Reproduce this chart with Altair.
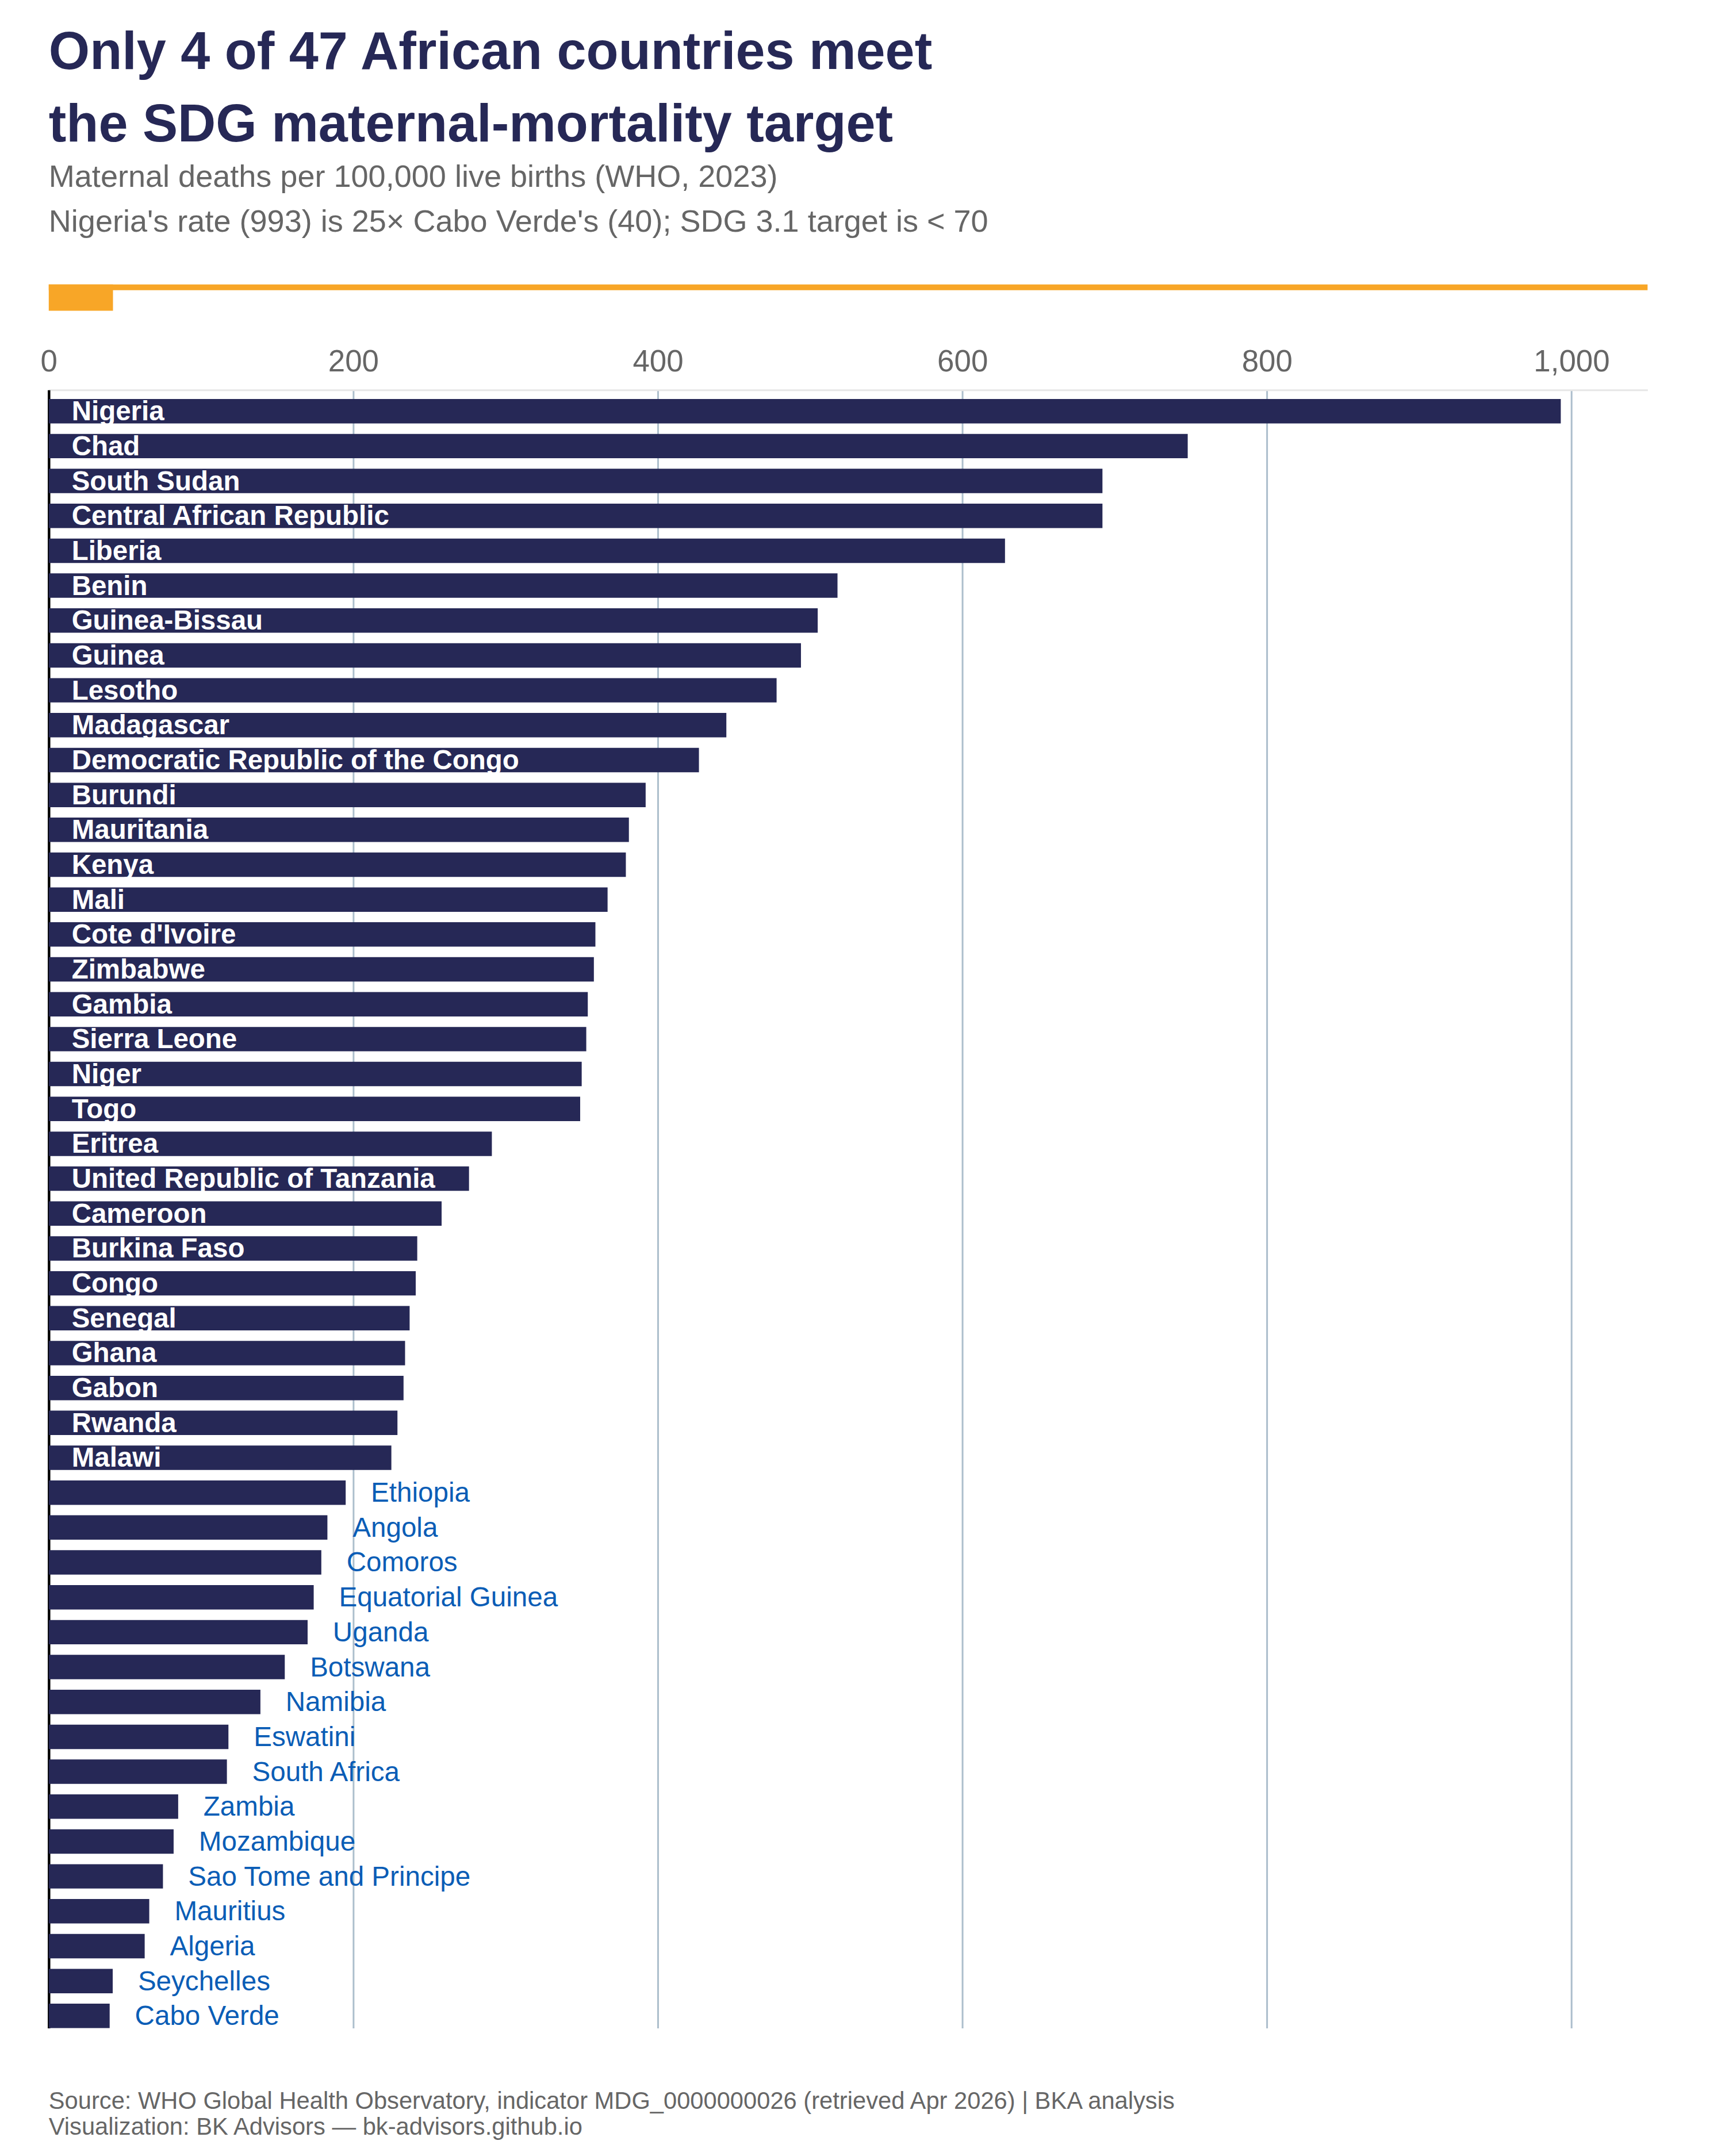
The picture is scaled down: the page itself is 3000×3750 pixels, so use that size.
import altair as alt
import pandas as pd

# ---- data ----
countries = [
    "Nigeria", "Chad", "South Sudan", "Central African Republic", "Liberia",
    "Benin", "Guinea-Bissau", "Guinea", "Lesotho", "Madagascar",
    "Democratic Republic of the Congo", "Burundi", "Mauritania", "Kenya", "Mali",
    "Cote d'Ivoire", "Zimbabwe", "Gambia", "Sierra Leone", "Niger", "Togo",
    "Eritrea", "United Republic of Tanzania", "Cameroon", "Burkina Faso", "Congo",
    "Senegal", "Ghana", "Gabon", "Rwanda", "Malawi", "Ethiopia", "Angola",
    "Comoros", "Equatorial Guinea", "Uganda", "Botswana", "Namibia", "Eswatini",
    "South Africa", "Zambia", "Mozambique", "Sao Tome and Principe", "Mauritius",
    "Algeria", "Seychelles", "Cabo Verde",
]
mmr = [
    993, 748, 692, 692, 628,
    518, 505, 494, 478, 445,
    427, 392, 381, 379, 367,
    359, 358, 354, 353, 350, 349,
    291, 276, 258, 242, 241,
    237, 234, 233, 229, 225, 195, 183,
    179, 174, 170, 155, 139, 118,
    117, 85, 82, 75, 66,
    63, 42, 40,
]
x_ticks = [0, 200, 400, 600, 800, 1000]
title_lines = ["Only 4 of 47 African countries meet", "the SDG maternal-mortality target"]
subtitle_lines = [
    "Maternal deaths per 100,000 live births (WHO, 2023)",
    "Nigeria's rate (993) is 25\u00d7 Cabo Verde's (40); SDG 3.1 target is < 70",
]
footer_lines = [
    "Source: WHO Global Health Observatory, indicator MDG_0000000026 (retrieved Apr 2026) | BKA analysis",
    "Visualization: BK Advisors \u2014 bk-advisors.github.io",
]

df = pd.DataFrame({"country": countries, "mmr": mmr})
df["inside"] = df["mmr"] > 200
df["zero"] = 0

# ---- style ----
W, H = 2788, 2857
FONT = "Liberation Sans, Arial, Helvetica, sans-serif"
NAVY = "#262856"
BLUE = "#0a5db6"
ORANGE = "#f8a627"
GREY = "#666666"

y_enc = alt.Y(
    "country:N",
    sort=countries,
    scale=alt.Scale(paddingInner=0.3, paddingOuter=0.13, align=1),
    axis=alt.Axis(labels=False, ticks=False, title=None, domain=True,
                  domainColor="#000000", domainWidth=4.5, grid=False),
)
x_scale = alt.Scale(domain=[0, 1050], nice=False)
x_axis = alt.Axis(
    orient="top", values=x_ticks, format=",d",
    labelExpr="format(datum.value, ',')", title=None,
    labelFontSize=53, labelColor=GREY, labelFont=FONT, labelPadding=22,
    labelFlush=False, ticks=False, domainColor="#e6e6e6", domainWidth=3,
    grid=True, gridColor="#acbecc", gridWidth=3,
)

bars = alt.Chart(df).mark_bar(color=NAVY).encode(
    x=alt.X("mmr:Q", scale=x_scale, axis=x_axis),
    y=y_enc,
)

inside_labels = alt.Chart(df).transform_filter("datum.inside").mark_text(
    align="left", baseline="middle", dx=40, dy=2, font=FONT, fontSize=47.6,
    fontWeight="bold", color="white",
).encode(
    x=alt.X("zero:Q", scale=x_scale, axis=x_axis),
    y=y_enc,
    text="country:N",
)

outside_labels = alt.Chart(df).transform_filter("!datum.inside").mark_text(
    align="left", baseline="middle", dx=44, dy=2, font=FONT, fontSize=47.7,
    color=BLUE,
).encode(
    x=alt.X("mmr:Q", scale=x_scale, axis=x_axis),
    y=y_enc,
    text="country:N",
)

one = pd.DataFrame({"k": [0]})
accent_line = alt.Chart(one).mark_rule(color=ORANGE, strokeWidth=10).encode(
    x=alt.value(0), x2=alt.value(W), y=alt.value(-179)
)
accent_block = alt.Chart(one).mark_rect(color=ORANGE).encode(
    x=alt.value(0), x2=alt.value(112), y=alt.value(-184), y2=alt.value(-138)
)
footer = alt.Chart(one).mark_text(
    text=footer_lines, align="left", baseline="alphabetic", font=FONT,
    fontSize=41.8, lineHeight=45, color=GREY,
).encode(x=alt.value(0), y=alt.value(2998))

chart = alt.layer(
    accent_line, accent_block, bars, inside_labels, outside_labels, footer
).properties(
    width=W,
    height=H,
    padding={"left": 77, "top": 667, "right": 127, "bottom": 200},
    autosize=alt.AutoSizeParams(type="none"),
    background="white",
    title=alt.Title(
        text=title_lines,
        subtitle=subtitle_lines,
        anchor="start",
        frame="group",
        font=FONT,
        fontSize=92,
        fontWeight="bold",
        color=NAVY,
        lineHeight=126,
        subtitleFont=FONT,
        subtitleFontSize=54.2,
        subtitleColor=GREY,
        subtitleLineHeight=78,
        subtitlePadding=17,
        offset=80,
    ),
).configure_view(stroke=None, strokeWidth=0)

chart.save("out.html", embed_options={"renderer": "svg", "actions": False})
